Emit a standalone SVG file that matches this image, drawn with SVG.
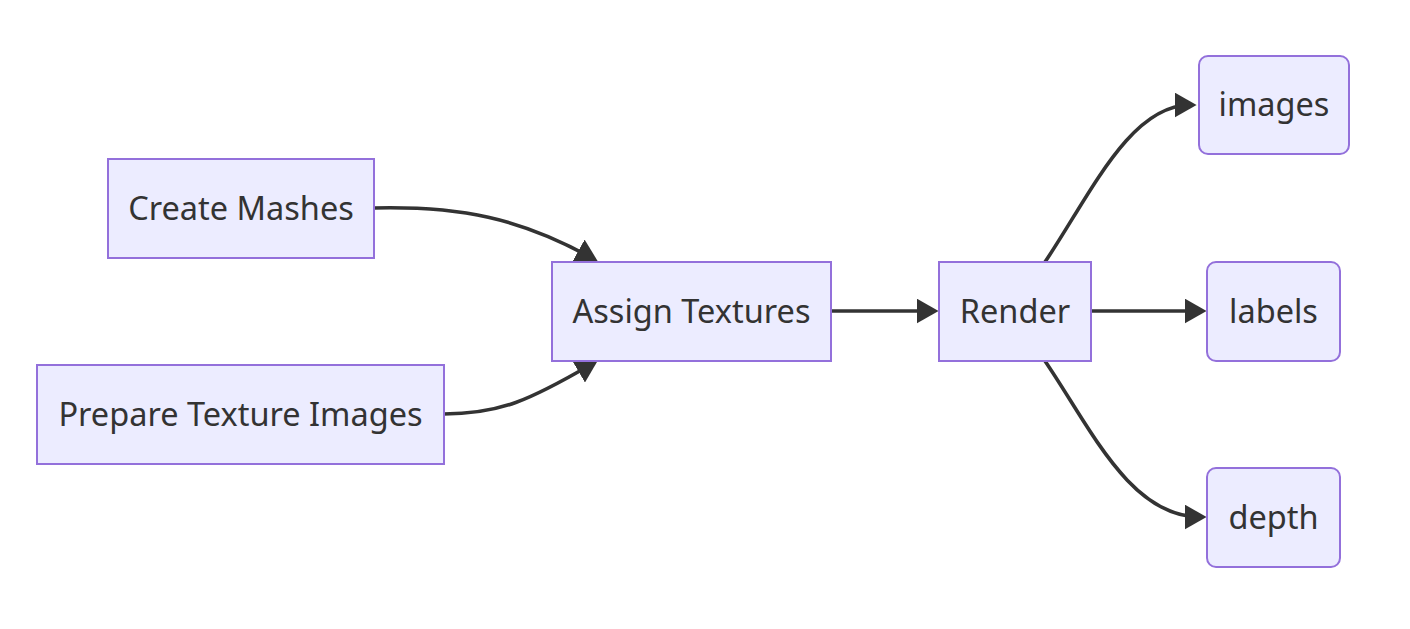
<svg xmlns="http://www.w3.org/2000/svg" width="1410" height="629" viewBox="0 0 1410 629">
<style>
.node rect{fill:#ECECFF;stroke:#9370DB;stroke-width:2}
.node text{font-family:"Noto Sans","DejaVu Sans",sans-serif;font-size:32.5px;fill:#333;text-anchor:middle}
.edge{fill:none;stroke:#333;stroke-width:3.6}
</style>
<defs>
<marker id="arrow" viewBox="0 0 10 10" refX="7" refY="5" markerUnits="userSpaceOnUse" markerWidth="22" markerHeight="25" preserveAspectRatio="none" orient="auto">
<path d="M0,0 L10,5 L0,10 z" fill="#333"/>
</marker>
</defs>
<rect width="1410" height="629" fill="#fff"/>
<g id="connectors">
<path class="edge" d="M374,208 C460,206 520,218 592,258" marker-end="url(#arrow)"/>
<path class="edge" d="M444,414 C500,414 530,400 592,364" marker-end="url(#arrow)"/>
<path class="edge" d="M831,311 L932,311" marker-end="url(#arrow)"/>
<path class="edge" d="M1045,262 C1090,195 1130,105 1190,105" marker-end="url(#arrow)"/>
<path class="edge" d="M1091,311 L1200,311" marker-end="url(#arrow)"/>
<path class="edge" d="M1045,361 C1090,427 1130,517 1200,517" marker-end="url(#arrow)"/>
</g>
<g id="create-mashes" class="node"><rect x="108" y="159" width="266" height="99"/><text x="241" y="219.5">Create Mashes</text></g>
<g id="prepare-texture-images" class="node"><rect x="37" y="365" width="407" height="99"/><text x="240.5" y="425.5">Prepare Texture Images</text></g>
<g id="assign-textures" class="node"><rect x="552" y="262" width="279" height="99"/><text x="691.5" y="322.5">Assign Textures</text></g>
<g id="render" class="node"><rect x="939" y="262" width="152" height="99"/><text x="1015" y="322.5">Render</text></g>
<g id="images" class="node"><rect x="1199" y="56" width="150" height="98" rx="9" ry="9"/><text x="1274" y="116">images</text></g>
<g id="labels" class="node"><rect x="1207" y="262" width="133" height="99" rx="9" ry="9"/><text x="1273.5" y="322.5">labels</text></g>
<g id="depth" class="node"><rect x="1207" y="468" width="133" height="99" rx="9" ry="9"/><text x="1273.5" y="528.5">depth</text></g>
</svg>
